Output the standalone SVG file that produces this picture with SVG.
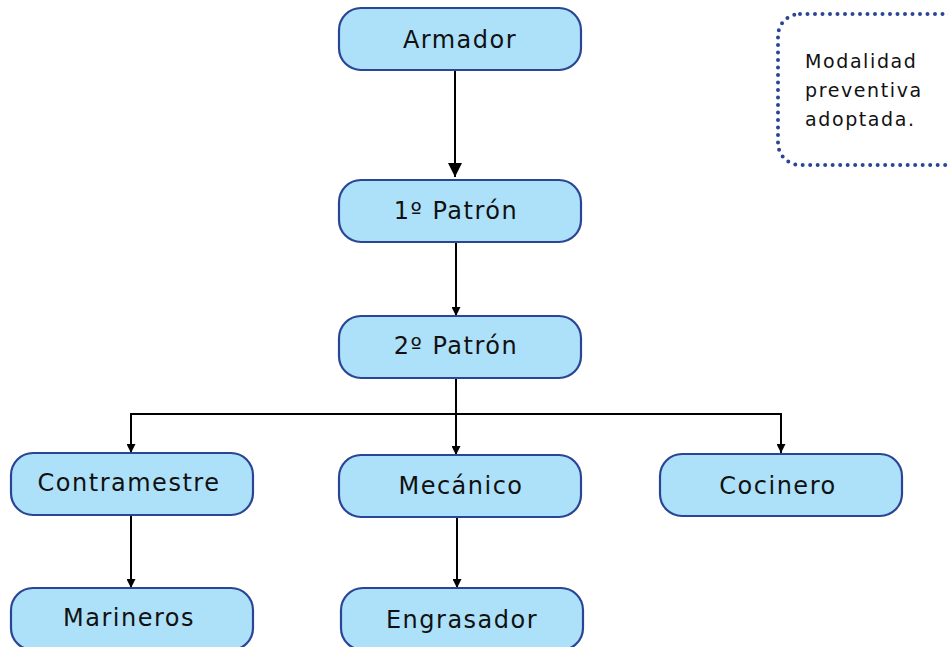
<svg xmlns="http://www.w3.org/2000/svg" width="948" height="647" viewBox="0 0 948 647">
<style>
.node rect{fill:#ade1fa;stroke:#2b4596;stroke-width:2.2}
.node text{font-family:"DejaVu Sans",Verdana,sans-serif;font-size:24px;letter-spacing:1.5px;fill:#111;text-anchor:middle}
.conn path{fill:none;stroke:#000;stroke-width:2}
.note text{font-family:"DejaVu Sans",Verdana,sans-serif;font-size:19px;letter-spacing:1.6px;fill:#111}
</style>
<defs>
<marker id="big" viewBox="0 0 14 14" refX="14" refY="7" markerWidth="14" markerHeight="14" markerUnits="userSpaceOnUse" orient="auto"><path d="M0,0 L14,7 L0,14 z" fill="#000"/></marker>
<marker id="sm" viewBox="0 0 9 9" refX="9" refY="4.5" markerWidth="9" markerHeight="9" markerUnits="userSpaceOnUse" orient="auto"><path d="M0,0 L9,4.5 L0,9 z" fill="#000"/></marker>
</defs>
<g id="connectors" class="conn">
<path d="M455,70 V177" marker-end="url(#big)"/>
<path d="M456,242 V316" marker-end="url(#sm)"/>
<path d="M456,378 V414"/>
<path d="M131,453 V414 H781 V453" />
<path d="M131,414 V453" marker-end="url(#sm)"/>
<path d="M456,414 V455" marker-end="url(#sm)"/>
<path d="M781,414 V453" marker-end="url(#sm)"/>
<path d="M131,516 V588" marker-end="url(#sm)"/>
<path d="M457,517 V588" marker-end="url(#sm)"/>
</g>
<g id="armador" class="node"><rect x="339" y="8" width="242" height="62" rx="22"/><text x="460" y="48">Armador</text></g>
<g id="patron1" class="node"><rect x="339" y="180" width="242" height="62" rx="22"/><text x="456" y="219">1º Patrón</text></g>
<g id="patron2" class="node"><rect x="339" y="316" width="242" height="62" rx="22"/><text x="456" y="354">2º Patrón</text></g>
<g id="contramestre" class="node"><rect x="11" y="453" width="242" height="62" rx="22"/><text x="129" y="491">Contramestre</text></g>
<g id="mecanico" class="node"><rect x="339" y="455" width="242" height="62" rx="22"/><text x="461" y="494">Mecánico</text></g>
<g id="cocinero" class="node"><rect x="660" y="454" width="242" height="62" rx="22"/><text x="778" y="494">Cocinero</text></g>
<g id="marineros" class="node"><rect x="11" y="588" width="242" height="62" rx="22"/><text x="129" y="626">Marineros</text></g>
<g id="engrasador" class="node"><rect x="341" y="588" width="242" height="62" rx="22"/><text x="462" y="628">Engrasador</text></g>
<g id="note" class="note">
<rect x="778" y="14" width="190" height="151" rx="22" fill="none" stroke="#2b4596" stroke-width="4" stroke-linecap="round" stroke-dasharray="0 7.5"/>
<text x="805" y="68">Modalidad</text>
<text x="805" y="97">preventiva</text>
<text x="805" y="126">adoptada.</text>
</g>
</svg>
